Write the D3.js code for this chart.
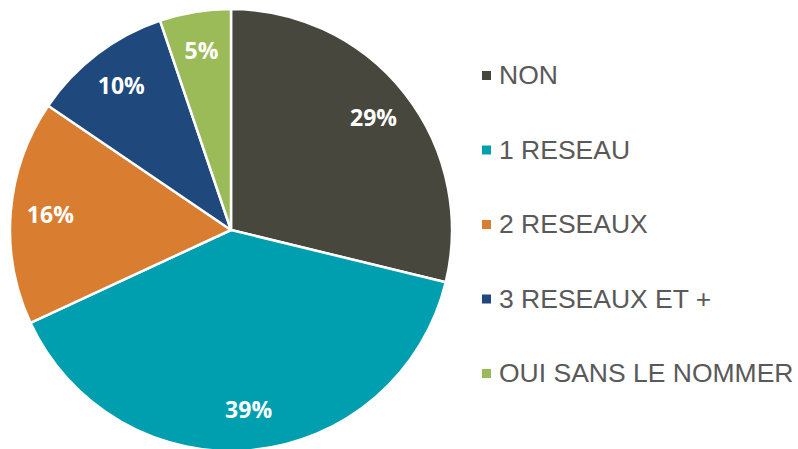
<!DOCTYPE html>
<html lang="fr">
<head>
  <meta charset="UTF-8">
  <title>Réseaux</title>
  <script src="https://d3js.org/d3.v7.min.js"></script>
  <style>
    body { margin: 0; background: #fff; }
    svg { display: block; }
  </style>
</head>
<body>
  <div id="chart"></div>

  <script>
    const categories = ["NON", "1 RESEAU", "2 RESEAUX", "3 RESEAUX ET +", "OUI SANS LE NOMMER"];
    const values = [28.8, 39.3, 16.4, 10.3, 5.2];
    const colors = ["#48473d", "#009fb0", "#d97d31", "#1f497d", "#9bbb59"];

    const width = 798, height = 449;
    const cx = 231, cy = 230, radius = 221;

    const svg = d3.select("#chart").append("svg")
                  .attr("width", width)
                  .attr("height", height);

    const data = categories.map((c, i) => ({name: c, value: values[i]}));

    const pie = d3.pie().sort(null).value(d => d.value);
    const arc = d3.arc().innerRadius(0).outerRadius(radius);
    const labelArc = d3.arc().innerRadius(radius * 0.82).outerRadius(radius * 0.82);
    const color = d3.scaleOrdinal().domain(categories).range(colors);

    const g = svg.append("g").attr("transform", `translate(${cx},${cy})`);
    const arcs = pie(data);

    g.selectAll("path")
     .data(arcs)
     .enter().append("path")
     .attr("d", arc)
     .attr("fill", d => color(d.data.name))
     .attr("stroke", "#fff")
     .attr("stroke-width", 2.5)
     .attr("stroke-linejoin", "round");

    g.selectAll(".label")
     .data(arcs)
     .enter().append("text")
     .attr("class", "label")
     .attr("transform", d => `translate(${labelArc.centroid(d)})`)
     .attr("text-anchor", "middle")
     .attr("dy", "0.35em")
     .attr("fill", "#fff")
     .style("font-family", "'Open Sans', sans-serif")
     .style("font-weight", "bold")
     .style("font-size", "23px")
     .text(d => Math.round(d.data.value) + "%");

    // légende
    const legend = svg.append("g").attr("transform", "translate(482,75)");
    const rows = legend.selectAll("g")
      .data(categories)
      .enter().append("g")
      .attr("transform", (d, i) => `translate(0,${i * 74.5})`);

    rows.append("rect")
      .attr("x", 0).attr("y", -4)
      .attr("width", 9).attr("height", 9)
      .attr("fill", d => color(d));

    rows.append("text")
      .attr("x", 17)
      .attr("dy", "0.35em")
      .attr("fill", "#595959")
      .style("font-family", "'Liberation Sans', Arial, sans-serif")
      .style("font-size", "26.5px")
      .text(d => d);
  </script>
</body>
</html>
